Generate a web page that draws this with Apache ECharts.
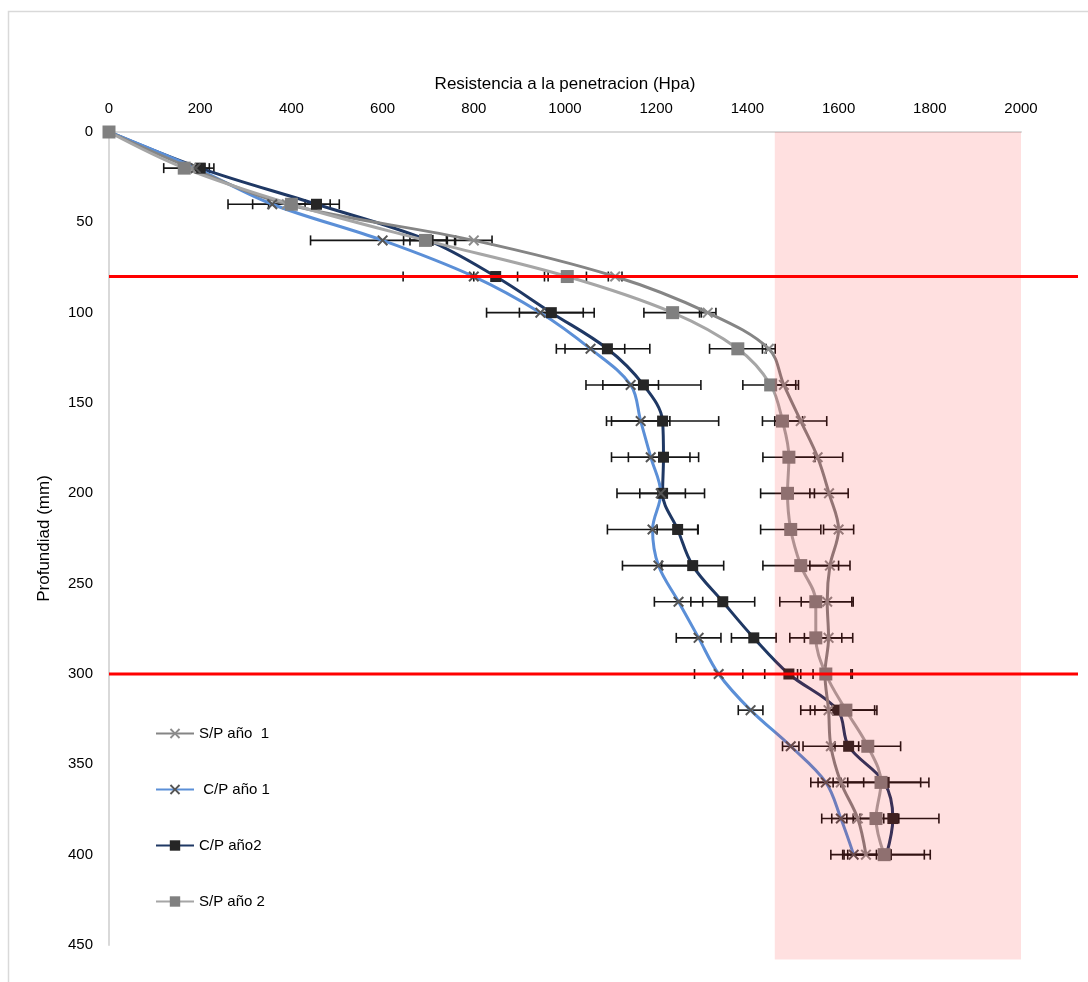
<!DOCTYPE html>
<html>
<head>
<meta charset="utf-8">
<script src="https://cdn.jsdelivr.net/npm/echarts@6/dist/echarts.min.js"></script>
<style>
  html, body { margin: 0; padding: 0; background: #fff; }
  #chart { width: 1088px; height: 982px; }
</style>
</head>
<body>
<div id="chart"></div>
<script>
// Depth of each reading (mm)
const depths = [0, 20, 40, 60, 80, 100, 120, 140, 160, 180, 200, 220, 240, 260, 280, 300, 320, 340, 360, 380, 400];

// Penetration resistance (Hpa) per treatment
const spAno1 = [0, 180, 390, 800, 1110, 1313, 1447, 1480, 1517, 1554, 1579, 1600, 1581, 1575, 1578, 1570, 1578, 1583, 1605, 1642, 1660];
const cpAno1 = [0, 190, 358, 600, 800, 946, 1056, 1144, 1166, 1188, 1210, 1192, 1205, 1249, 1293, 1337, 1407, 1495, 1572, 1605, 1633];
const cpAno2 = [0, 200, 455, 700, 848, 970, 1093, 1172, 1214, 1216, 1214, 1247, 1280, 1346, 1414, 1491, 1598, 1622, 1700, 1719, 1705];
const spAno2 = [0, 165, 400, 694, 1005, 1236, 1379, 1451, 1477, 1491, 1488, 1495, 1517, 1550, 1550, 1572, 1616, 1664, 1693, 1682, 1700];

// Error bar half-widths (Hpa)
const spAno1Err = [0, 20, 40, 40, 15, 18, 14, 26, 57, 55, 42, 33, 44, 57, 53, 60, 40, 61, 50, 57, 40];
const cpAno1Err = [0, 30, 97, 158, 155, 118, 75, 61, 64, 86, 96, 99, 79, 53, 49, 53, 27, 18, 33, 42, 50];
const cpAno2Err = [0, 30, 50, 40, 48, 70, 93, 126, 123, 77, 50, 45, 68, 70, 49, 53, 81, 40, 80, 101, 96];
const spAno2Err = [0, 45, 85, 48, 42, 63, 62, 61, 44, 57, 59, 66, 83, 79, 57, 55, 68, 72, 105, 50, 88];

// Legend names
const names = ['S/P año  1', ' C/P año 1', 'C/P año2', 'S/P año 2'];

// Reference depths (mm) and critical resistance band (Hpa)
const refDepths = [80, 300];
const refLineEnd = 2125;
const bandStart = 1460;
const bandEnd = 2000;
const bandBottom = 458;

const FONT = '"Liberation Sans", Arial, sans-serif';
const X_SYMBOL = 'path://M0,1.3L1.3,0L5,3.7L8.7,0L10,1.3L6.3,5L10,8.7L8.7,10L5,6.3L1.3,10L0,8.7L3.7,5Z';

const toPairs = vals => vals.map((v, i) => [v, depths[i]]);
const toErr = (vals, errs) => vals.map((v, i) => [v, depths[i], errs[i]]);

function errorBars(vals, errs) {
  return {
    type: 'custom',
    z: 1,
    silent: true,
    encode: { x: 0, y: 1 },
    data: toErr(vals, errs),
    renderItem(params, api) {
      const e = api.value(2);
      if (!e) return null;
      const x = api.value(0), y = api.value(1);
      const a = api.coord([x - e, y]);
      const b = api.coord([x + e, y]);
      const h = 5;
      const st = { stroke: '#151515', lineWidth: 1.6 };
      return {
        type: 'group',
        children: [
          { type: 'line', shape: { x1: a[0], y1: a[1], x2: b[0], y2: b[1] }, style: st },
          { type: 'line', shape: { x1: a[0], y1: a[1] - h, x2: a[0], y2: a[1] + h }, style: st },
          { type: 'line', shape: { x1: b[0], y1: b[1] - h, x2: b[0], y2: b[1] + h }, style: st }
        ]
      };
    }
  };
}

function lineSeries(name, vals, color, symbol, symbolSize, symbolColor) {
  return {
    name: name,
    type: 'line',
    z: 2,
    data: toPairs(vals),
    smooth: 0.35,
    symbol: symbol,
    symbolSize: symbolSize,
    showAllSymbol: true,
    lineStyle: { color: color, width: 3 },
    itemStyle: { color: symbolColor, borderWidth: 0 },
    emphasis: { disabled: true }
  };
}

const chart = echarts.init(document.getElementById('chart'));

chart.setOption({
  animation: false,
  backgroundColor: '#fff',
  grid: { left: 109, right: 67, top: 132, bottom: 37 },
  xAxis: {
    type: 'value',
    position: 'top',
    min: 0, max: 2000, interval: 200,
    name: 'Resistencia a la penetracion (Hpa)',
    nameLocation: 'middle',
    nameGap: 39,
    nameTextStyle: { fontFamily: FONT, fontSize: 17, color: '#000' },
    axisLine: { show: true, lineStyle: { color: '#d9d9d9', width: 2 } },
    axisTick: { show: false },
    splitLine: { show: false },
    axisLabel: { fontFamily: FONT, fontSize: 15, color: '#000', margin: 16, formatter: v => String(v) }
  },
  yAxis: {
    type: 'value',
    inverse: true,
    min: 0, max: 450, interval: 50,
    name: 'Profundiad (mm)',
    nameLocation: 'middle',
    nameGap: 56,
    nameRotate: 90,
    nameTextStyle: { fontFamily: FONT, fontSize: 17, color: '#000' },
    axisLine: { show: true, lineStyle: { color: '#d9d9d9', width: 2 } },
    axisTick: { show: false },
    splitLine: { show: false },
    axisLabel: { fontFamily: FONT, fontSize: 15, color: '#000', margin: 16 }
  },
  legend: {
    data: names,
    orient: 'vertical',
    left: 150,
    top: 721,
    itemWidth: 38,
    itemHeight: 13,
    itemGap: 41,
    textStyle: { fontFamily: FONT, fontSize: 15, color: '#000' }
  },
  series: [
    errorBars(spAno1, spAno1Err),
    errorBars(cpAno1, cpAno1Err),
    errorBars(cpAno2, cpAno2Err),
    errorBars(spAno2, spAno2Err),
    lineSeries(names[2], cpAno2, '#1f3864', 'rect', 11, '#262626'),
    lineSeries(names[1], cpAno1, '#5b8fd7', X_SYMBOL, 11, '#555555'),
    lineSeries(names[0], spAno1, '#858585', X_SYMBOL, 11, '#8c8c8c'),
    lineSeries(names[3], spAno2, '#a6a6a6', 'rect', 13, '#808080')
  ]
});

// Overlays placed through the axes' own scales
function drawOverlays() {
  const px = (x, y) => chart.convertToPixel({ gridIndex: 0 }, [x, y]);
  const bandA = px(bandStart, 0);
  const bandB = px(bandEnd, bandBottom);
  const graphics = [
    {
      type: 'rect', z: 0, silent: true,
      shape: { x: 8.5, y: 11.5, width: 1200, height: 1100 },
      style: { fill: null, stroke: '#d9d9d9', lineWidth: 1.5 }
    },
    {
      type: 'rect', z: 100, silent: true,
      shape: { x: bandA[0], y: bandA[1], width: bandB[0] - bandA[0], height: bandB[1] - bandA[1] },
      style: { fill: 'rgba(255,0,0,0.12)' }
    }
  ];
  refDepths.forEach(d => {
    const a = px(0, d), b = px(refLineEnd, d);
    graphics.push({
      type: 'line', z: 90, silent: true,
      shape: { x1: a[0], y1: a[1], x2: b[0], y2: b[1] },
      style: { stroke: '#ff0000', lineWidth: 3 }
    });
  });
  chart.setOption({ graphic: graphics });
}
drawOverlays();
</script>
</body>
</html>
